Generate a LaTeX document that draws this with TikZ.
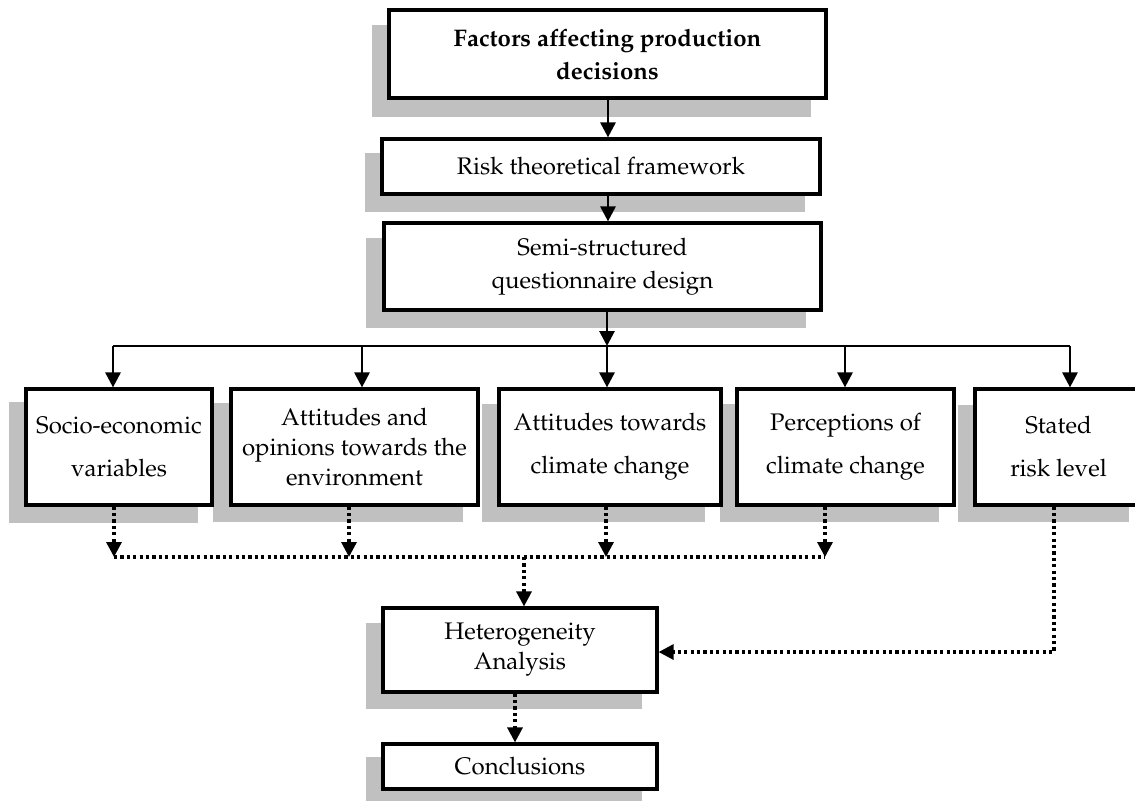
\documentclass[tikz,border=0pt]{standalone}
\usepackage[T1]{fontenc}
\renewcommand{\rmdefault}{ppl}
\usetikzlibrary{arrows.meta}
\definecolor{shade}{RGB}{192,192,192}
\begin{document}
\begin{tikzpicture}[x=0.5pt,y=-0.5pt,
  box/.style={draw, line width=1.6pt, fill=white, align=center, inner sep=0pt,
    font=\fontsize{12}{15}\selectfont},
  shadowbox/.style={fill=shade},
  arr/.style={line width=1.4pt, -{Triangle[width=7.5pt,length=7.5pt]}},
  plainline/.style={line width=1.4pt},
  dots/.style={line width=1.6pt, dash pattern=on 1.6pt off 1.6pt},
  dotarr/.style={dots, -{Triangle[width=7.5pt,length=7.5pt]}}]
\useasboundingbox (0,0) rectangle (1135,800);
\clip (0,0) rectangle (1135,800);

% shadows
\fill[shadowbox] (372,25) rectangle (811,117);
\fill[shadowbox] (365,153) rectangle (805,212);
\fill[shadowbox] (366,238) rectangle (806,328);
\fill[shadowbox] (9,402) rectangle (198,523);
\fill[shadowbox] (213,403) rectangle (463,522);
\fill[shadowbox] (482,404) rectangle (705,522);
\fill[shadowbox] (720,404) rectangle (939,522);
\fill[shadowbox] (958,405) rectangle (1129,522);
\fill[shadowbox] (366,623) rectangle (642,709);
\fill[shadowbox] (366,757) rectangle (642,810);

% boxes
\node[box, minimum width=218.5pt, minimum height=44pt,
  font=\fontsize{12}{15}\selectfont\bfseries] (fac) at (607.5,54)
  {Factors affecting production\\[1.5pt]decisions};
\node[box, minimum width=219pt, minimum height=27.5pt] (risk) at (601,166.5)
  {Risk theoretical framework};
\node[box, minimum width=218.5pt, minimum height=43.5pt] (semi) at (602.5,266.5)
  {Semi-structured\\[1.5pt]questionnaire design};
\node[box, minimum width=93pt, minimum height=58pt] (socio) at (119,447)
  {Socio-economic\\[6.5pt]variables};
\node[box, minimum width=123.5pt, minimum height=58pt] (att) at (354.5,447)
  {Attitudes and\\opinions towards the\\environment};
\node[box, minimum width=111pt, minimum height=58pt] (atc) at (610,447)
  {Attitudes towards\\[6.5pt]climate change};
\node[box, minimum width=108.5pt, minimum height=58pt] (per) at (845.5,447)
  {Perceptions of\\[6.5pt]climate change};
\node[box, minimum width=83.5pt, minimum height=58pt] (sta) at (1058.5,447)
  {Stated\\[6.5pt]risk level};
\node[box, minimum width=137pt, minimum height=42pt] (het) at (520,650)
  {Heterogeneity\\Analysis};
\node[box, minimum width=137pt, minimum height=22.5pt] (con) at (520,766.5)
  {Conclusions};

% solid connectors
\coordinate (t1) at (608,0);
\draw[arr] (fac.south -| t1) -- (risk.north -| t1);
\draw[arr] (risk.south -| t1) -- (semi.north -| t1);
\coordinate (j) at (607,346);
\draw[arr] (semi.south -| j) -- (j);
\coordinate (h1) at (113,346);
\coordinate (h2) at (362,346);
\coordinate (h3) at (607,346);
\coordinate (h4) at (845,346);
\coordinate (h5) at (1070,346);
\draw[plainline] (h1) -- (h5);
\draw[arr] (h1) -- (h1 |- socio.north);
\draw[arr] (h2) -- (h2 |- att.north);
\draw[arr] (h3) -- (h3 |- atc.north);
\draw[arr] (h4) -- (h4 |- per.north);
\draw[arr] (h5) -- (h5 |- sta.north);

% dotted connectors
\coordinate (d1) at (114,557);
\coordinate (d2) at (349,557);
\coordinate (d3) at (606,557);
\coordinate (d4) at (825,557);
\coordinate (m) at (524,557);
\draw[dotarr] (socio.south -| d1) -- (d1);
\draw[dotarr] (att.south -| d2) -- (d2);
\draw[dotarr] (atc.south -| d3) -- (d3);
\draw[dotarr] (per.south -| d4) -- (d4);
\draw[dots] (d1) -- (d4);
\draw[dotarr] (m) -- (m |- het.north);
\coordinate (s) at (1054,652);
\draw[dotarr] (sta.south -| s) -- (s) -- (s -| het.east);
\coordinate (b) at (515,0);
\draw[dotarr] (het.south -| b) -- (con.north -| b);
\end{tikzpicture}
\end{document}
